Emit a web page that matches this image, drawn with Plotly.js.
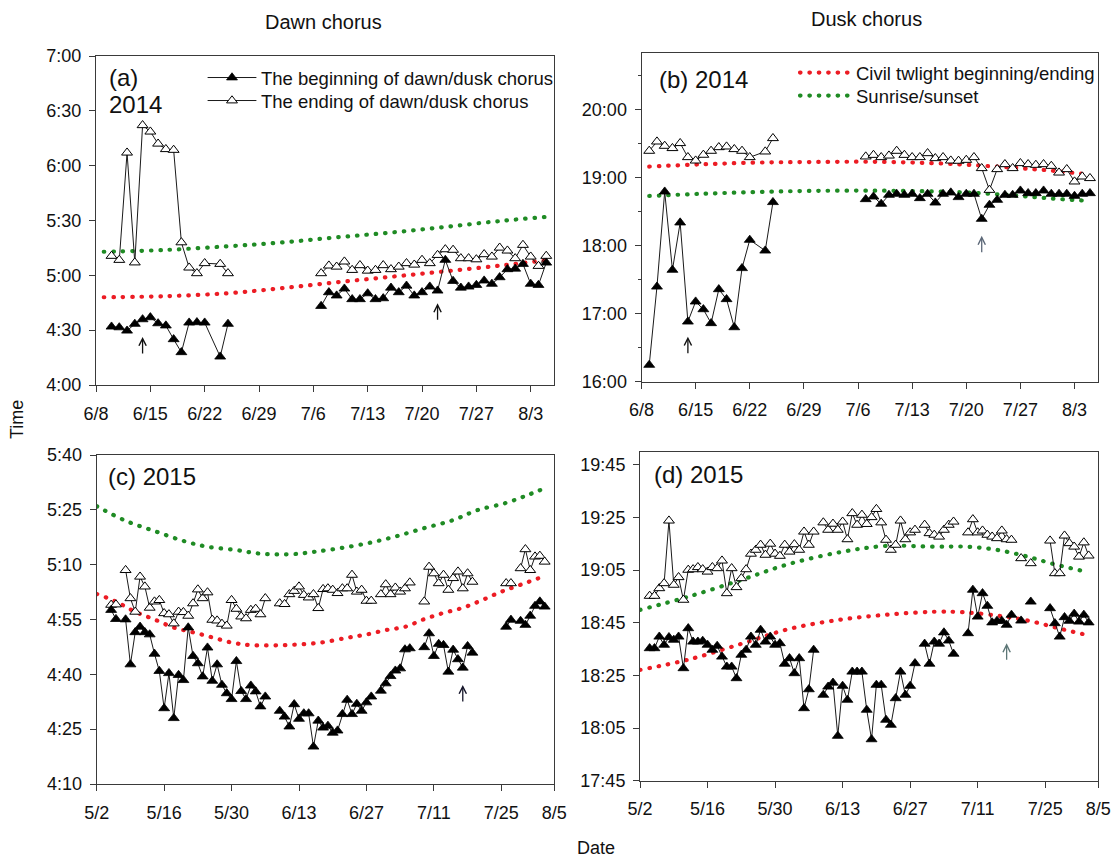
<!DOCTYPE html>
<html>
<head>
<meta charset="utf-8">
<script src="https://cdn.plot.ly/plotly-3.0.1.min.js"></script>
<style>
  html, body { margin: 0; padding: 0; background: #fff; }
  #chart { width: 1114px; height: 861px; }
  .js-line { stroke-linecap: round; }
</style>
</head>
<body>
<div id="chart"></div>
<script>
// ---------------- Dawn chorus 2014 ----------------
const dawn2014Dates = ["6/10","6/11","6/12","6/13","6/14","6/15","6/16","6/17","6/18","6/19","6/20","6/21","6/22","6/24","6/25","6/30",
  "7/7","7/8","7/9","7/10","7/11","7/12","7/13","7/14","7/15","7/16","7/17","7/18","7/19","7/20","7/21","7/22","7/23","7/24","7/25",
  "7/26","7/27","7/28","7/29","7/30","7/31","8/1","8/2","8/3","8/4","8/5"];
const dawn2014Begin = ["4:31.9","4:31.5","4:29.7","4:33.4","4:35.9","4:37.0","4:33.7","4:32.5","4:25.0","4:17.9","4:34.1","4:34.3","4:34.1","4:15.5","4:33.4",null,
  "4:43.2","4:50.7","4:48.9","4:52.7","4:46.9","4:46.9","4:50.1","4:46.9","4:47.4","4:53.2","4:50.7","4:54.3","4:48.9","4:50.7","4:53.8","4:51.6","5:08.4","4:56.9","4:53.2",
  "4:53.8","4:54.7","4:57.1","4:55.3","4:58.9","5:03.3","5:03.6","5:06.2","4:55.3","4:54.7","5:06.9"];
const dawn2014End = ["5:10.6","5:08.4","6:07.1","5:07.0","6:22.1","6:18.6","6:12.0","6:09.0","6:08.6","5:18.0","5:04.2","5:01.1","5:06.6","5:06.2","5:01.1",null,
  "5:01.1","5:05.3","5:04.7","5:07.5","5:02.9","5:05.5","5:02.5","5:02.9","5:05.5","5:03.3","5:04.7","5:06.6","5:05.8","5:08.4","5:06.6","5:11.1","5:14.2","5:13.9","5:09.3",
  "5:09.3","5:08.7","5:11.5","5:10.2","5:15.1","5:13.5","5:09.3","5:16.6","5:10.2","5:05.1","5:10.6"];
const dawn2014RefDates = ["6/9","6/17","6/25","7/2","7/9","7/16","7/23","7/30","8/5"];
const dawn2014Civil   = ["4:48.0","4:48.6","4:50.2","4:53.0","4:56.2","4:59.2","5:02.2","5:05.3","5:08.3"];
const dawn2014Sunrise = ["5:12.9","5:13.9","5:15.9","5:18.0","5:20.8","5:23.4","5:26.5","5:29.7","5:32.0"];

// ---------------- Dusk chorus 2014 ----------------
const dusk2014Dates = ["6/9","6/10","6/11","6/12","6/13","6/14","6/15","6/16","6/17","6/18","6/19","6/20","6/21","6/22","6/24","6/25","6/30",
  "7/7","7/8","7/9","7/10","7/11","7/12","7/13","7/14","7/15","7/16","7/17","7/18","7/19","7/20","7/21","7/22","7/23","7/24","7/25",
  "7/26","7/27","7/28","7/29","7/30","7/31","8/1","8/2","8/3","8/4","8/5"];
const dusk2014Begin = ["16:14.8","17:23.9","18:47.8","17:38.7","18:20.5","16:53.0","17:10.7","17:03.9","16:51.6","17:21.6","17:12.8","16:48.0","17:40.2","18:05.2","17:55.7","18:38.5",null,
  "18:41.1","18:43.4","18:37.0","18:44.9","18:45.8","18:44.9","18:45.8","18:42.0","18:45.8","18:38.1","18:45.8","18:47.0","18:42.9","18:45.8","18:45.8","18:23.7","18:36.1","18:40.5","18:44.9",
  "18:44.9","18:48.7","18:46.4","18:46.4","18:48.7","18:45.8","18:45.8","18:45.8","18:44.0","18:45.8","18:46.4"];
const dusk2014End = ["19:23.8","19:32.0","19:28.2","19:26.2","19:30.6","19:18.2","19:15.2","19:20.3","19:23.8","19:27.0","19:27.6","19:25.3","19:23.8","19:18.2","19:23.2","19:35.0",null,
  "19:18.8","19:20.2","19:18.2","19:19.6","19:23.8","19:20.2","19:18.2","19:18.2","19:21.7","19:17.3","19:18.2","19:15.2","19:15.0","19:15.8","19:18.2","19:08.5","18:49.3","19:07.6","19:12.0",
  "19:08.5","19:12.9","19:12.0","19:11.4","19:12.0","19:10.5","19:04.6","19:07.6","18:56.7","19:01.1","18:59.7"];
const dusk2014RefDates = ["6/9","6/16","6/23","6/30","7/8","7/16","7/22","7/27","7/31","8/4"];
const dusk2014Civil  = ["19:10.0","19:12.0","19:13.5","19:14.0","19:14.2","19:12.9","19:10.8","19:08.5","19:06.4","19:03.6"];
const dusk2014Sunset = ["18:44.0","18:46.0","18:47.5","18:48.5","18:48.7","18:48.0","18:46.4","18:44.0","18:41.8","18:40.0"];

// ---------------- Dawn chorus 2015 ----------------
const dawn2015Dates = ["5/5","5/6","5/7","5/8","5/9","5/10","5/11","5/12","5/13","5/14","5/15","5/16","5/17","5/18","5/19","5/20","5/21","5/22","5/23","5/24",
  "5/25","5/26","5/27","5/28","5/29","5/30","5/31","6/1","6/2","6/3","6/4","6/5","6/6","6/7",
  "6/9","6/10","6/11","6/12","6/13","6/14","6/15","6/16","6/17","6/18","6/19","6/20","6/21","6/22","6/23","6/24","6/25","6/26","6/27","6/28","6/29",
  "6/30","7/1","7/2","7/3","7/4","7/5","7/6","7/7",
  "7/9","7/10","7/11","7/12","7/13","7/14","7/15","7/16","7/17","7/18","7/19","7/20",
  "7/26","7/27","7/28","7/29","7/30","7/31","8/1","8/2","8/3"];
const dawn2015Begin = ["4:57.6","4:55.1",null,"4:55.0","4:42.7","4:51.5","4:53.0","4:51.5","4:50.9","4:45.6","4:40.9","4:30.7","4:40.3","4:28.0","4:39.8","4:38.4","4:52.8","4:45.0","4:43.0","4:39.4",
  "4:47.3","4:38.2","4:42.7","4:37.1","4:34.8","4:33.2","4:43.6","4:35.4","4:33.2","4:36.9","4:35.3","4:31.2","4:33.9",null,
  "4:30.0","4:28.4","4:25.7","4:31.8","4:27.8","4:29.3","4:29.3","4:20.2","4:27.3","4:25.4","4:25.9","4:24.0","4:24.6","4:29.1","4:33.0","4:29.1","4:31.9","4:30.0","4:32.3","4:33.9",null,
  "4:35.5","4:37.5","4:39.5","4:41.0","4:41.6","4:46.8","4:47.1",null,
  "4:47.4","4:51.2","4:45.0","4:48.3","4:48.0","4:40.7","4:46.7","4:44.1","4:41.8","4:47.7","4:45.9",null,
  "4:53.0","4:54.9",null,"4:54.6","4:53.5","4:56.0","4:58.7","4:59.9","4:58.5"];
const dawn2015End = ["4:59.0","4:59.1",null,"5:08.5","5:00.8","4:57.1","5:06.7","5:04.0","4:58.2","4:59.9","5:00.3","4:56.7","4:56.4","4:53.9","4:57.1","4:57.0","4:56.0","4:59.4","5:03.2","5:00.8",
  "5:02.4","4:54.9","4:54.7","4:53.8","4:53.3","5:00.3","4:57.9","4:55.8","4:55.3","4:57.6","4:57.9","4:56.4","5:00.8",null,
  "4:59.4","4:59.2","5:01.9","5:02.8","5:04.0","5:01.7","5:01.0","5:01.9","4:58.1","5:03.3","5:03.5","5:03.1","5:02.2","5:03.5","5:03.5","5:07.2","5:02.6","5:03.1","5:00.1","5:00.1",null,
  "5:01.9","5:04.6","5:01.9","5:03.7","5:02.6","5:03.5","5:05.1",null,
  "4:59.9","5:09.4","5:07.6","5:04.9","5:07.2","5:03.1","5:06.3","5:08.1","5:03.5","5:07.6","5:05.3",null,
  "5:04.9","5:04.9",null,"5:09.0","5:14.2","5:08.5","5:12.2","5:12.4","5:10.8"];
const dawn2015CivilDates = ["5/2","5/6","5/10","5/14","5/18","5/22","5/26","5/30","6/3","6/10","6/17","6/23","6/27","7/1","7/5","7/9","7/13","7/17","7/21","7/25","7/29","8/3"];
const dawn2015Civil = ["5:02.0","4:59.9","4:57.1","4:55.0","4:52.8","4:51.5","4:50.1","4:48.7","4:48.0","4:48.0","4:48.6","4:50.0","4:50.9","4:52.1","4:53.0","4:55.1","4:56.8","4:58.2","5:00.3","5:02.6","5:04.5","5:06.9"];
const dawn2015SunriseDates = ["5/2","5/8","5/14","5/20","5/25","5/31","6/5","6/12","6/16","6/21","6/27","7/3","7/9","7/15","7/20","7/26","7/30","8/3"];
const dawn2015Sunrise = ["5:26.0","5:22.0","5:19.2","5:16.5","5:14.9","5:14.0","5:13.0","5:12.9","5:13.5","5:14.4","5:15.8","5:17.7","5:20.0","5:22.2","5:24.9","5:26.9","5:28.8","5:30.9"];

// ---------------- Dusk chorus 2015 ----------------
const dusk2015Dates = ["5/4","5/5","5/6","5/7","5/8","5/9","5/10","5/11","5/12","5/13","5/14","5/15","5/16","5/17","5/18","5/19","5/20","5/21","5/22","5/23","5/24",
  "5/25","5/26","5/27","5/28","5/29","5/30","5/31","6/1","6/2","6/3","6/4","6/5","6/6","6/7","6/8",
  "6/9","6/10","6/11","6/12","6/13","6/14","6/15","6/16","6/17","6/18","6/19","6/20","6/21","6/22","6/23","6/24","6/25","6/26","6/27","6/28","6/29",
  "6/30","7/1","7/2","7/3","7/4","7/5","7/6","7/7",
  "7/9","7/10","7/11","7/12","7/13","7/14","7/15","7/16","7/17","7/18","7/19","7/20","7/21","7/22","7/23",
  "7/26","7/27","7/28","7/29","7/30","7/31","8/1","8/2","8/3"];
const dusk2015Begin = ["18:35.3","18:35.3","18:39.7","18:36.6","18:39.5","18:38.5","18:39.7","18:27.7","18:42.9","18:37.8","18:37.8","18:38.1","18:36.6","18:34.7","18:36.2","18:32.1","18:28.3","18:28.3","18:23.9","18:32.8","18:34.7",
  "18:39.7","18:36.6","18:42.3","18:37.8","18:39.7","18:36.6","18:37.2","18:29.4","18:31.5","18:25.8","18:31.5","18:12.5","18:19.7","18:34.7",null,
  "18:17.6","18:20.7","18:22.2","18:02.0","18:21.0","18:15.7","18:26.4","18:26.4","18:26.4","18:11.9","18:00.7","18:21.4","18:21.4","18:08.1","18:06.2","18:16.3","18:26.4","18:17.6","18:21.0","18:29.6",null,
  "18:37.0","18:29.4","18:37.8","18:37.0","18:41.3","18:38.2","18:33.2",null,
  "18:41.0","18:57.5","18:47.3","18:56.2","18:51.4","18:45.1","18:45.7","18:45.7","18:44.2","18:48.0",null,"18:45.8",null,"18:53.0",null,
  "18:50.5","18:44.8","18:39.7","18:47.1","18:45.7","18:48.4","18:45.4","18:48.0","18:45.1"];
const dusk2015End = ["18:55.2","18:55.2","18:58.1","19:00.0","19:23.8","18:59.4","19:02.3","18:53.7","19:05.1","19:05.3","19:06.1","19:05.3","19:04.4","19:06.1","19:05.7","19:08.6","18:56.2","19:05.7","18:58.5","19:01.9","19:05.3",
  "19:11.2","19:12.7","19:14.6","19:10.8","19:15.0","19:11.2","19:10.4","19:14.6","19:12.0","19:14.8","19:12.7","19:19.6","19:14.6","19:19.6",null,
  "19:23.1","19:20.3","19:22.6","19:20.3","19:23.4","19:16.7","19:26.6","19:22.2","19:26.0","19:22.5","19:25.1","19:28.2","19:23.1","19:16.5","19:12.7","19:14.6","19:23.8","19:16.7","19:19.3","19:20.3",null,
  "19:22.2","19:19.0","19:18.4","19:17.7","19:20.3","19:22.2","19:23.4",null,
  "19:19.3","19:24.3","19:19.3","19:20.0","19:18.4","19:17.7","19:17.1","19:20.0","19:16.7","19:16.5",null,"19:09.5",null,"19:07.6",null,
  "19:16.2","19:03.8","19:03.8","19:18.1","19:15.2","19:13.9","19:10.1","19:15.5","19:10.5"];
const dusk2015CivilDates = ["5/2","5/12","5/23","6/2","6/13","6/23","7/2","7/8","7/16","7/22","7/28","8/3"];
const dusk2015Civil = ["18:27.1","18:31.0","18:37.0","18:42.7","18:46.3","18:48.2","18:49.2","18:49.0","18:47.5","18:45.6","18:42.8","18:40.2"];
const dusk2015SunsetDates = ["5/2","5/12","5/23","6/2","6/13","6/22","7/2","7/9","7/15","7/21","7/27","8/3"];
const dusk2015Sunset = ["18:49.9","18:54.9","19:01.3","19:07.4","19:12.0","19:14.2","19:13.9","19:13.9","19:12.7","19:10.3","19:07.2","19:04.2"];

// ---------------- axis ticks ----------------
const ticks2014 = ["6/8","6/15","6/22","6/29","7/6","7/13","7/20","7/27","8/3"];
const ticks2015 = ["5/2","5/16","5/30","6/13","6/27","7/11","7/25","8/5"];
const yTicksA = ["4:00","4:30","5:00","5:30","6:00","6:30","7:00"];
const yTicksB = ["16:00","17:00","18:00","19:00","20:00"];
const yMinorB = ["16:30","17:30","18:30","19:30","20:30"];
const yTicksC = ["4:10","4:25","4:40","4:55","5:10","5:25","5:40"];
const yTicksD = ["17:45","18:05","18:25","18:45","19:05","19:25","19:45"];

// marker arrows: [panel, date, time]
const arrowMarks = [
  ["a", "6/14", "4:26.3"], ["a", "7/22", "4:44.7"],
  ["b", "6/14", "16:39.8"], ["b", "7/22", "18:08.8"],
  ["c", "7/17", "4:37.1"], ["d", "7/17", "18:37.2"]
];

// ---------------- helpers ----------------
const W = 1114, H = 861;
const FONT = "'Liberation Sans', Arial, sans-serif";
const RED = "#ec1c24", GREEN = "#1f8b24";

function hrs(s) {
  if (s === null) return null;
  const p = s.split(":");
  return Number(p[0]) + parseFloat(p[1]) / 60;
}
function day(year, md) {
  const p = md.split("/");
  return year + "-" + p[0].padStart(2, "0") + "-" + p[1].padStart(2, "0");
}
const px = v => v / W;
const py = v => 1 - v / H;

function chorusPair(year, dates, begin, end, xa, ya, legA, legB) {
  const x = dates.map(d => day(year, d));
  return [
    {
      x: x, y: end.map(hrs), xaxis: xa, yaxis: ya, type: "scatter", mode: "lines+markers",
      name: "The ending of dawn/dusk chorus", connectgaps: false,
      line: {color: "#1a1a1a", width: 1},
      marker: {symbol: "triangle-up", size: 9.5, color: "#ffffff", line: {color: "#000", width: 1}},
      showlegend: !!legB, legend: legB || "legend"
    },
    {
      x: x, y: begin.map(hrs), xaxis: xa, yaxis: ya, type: "scatter", mode: "lines+markers",
      name: "The beginning of dawn/dusk chorus", connectgaps: false,
      line: {color: "#1a1a1a", width: 1},
      marker: {symbol: "triangle-up", size: 9.5, color: "#000", line: {color: "#000", width: 0.8}},
      showlegend: !!legA, legend: legA || "legend"
    }
  ];
}
function dotted(year, dates, vals, color, name, xa, ya, leg) {
  return {
    x: dates.map(d => day(year, d)), y: vals.map(hrs), xaxis: xa, yaxis: ya,
    type: "scatter", mode: "lines", name: name,
    line: {color: color, width: 4.2, dash: "0.5px,8.9px", shape: "spline"},
    showlegend: !!leg, legend: leg || "legend", hoverinfo: "skip"
  };
}

const traces = [].concat(
  dotted(2014, dawn2014RefDates, dawn2014Civil, RED, "Civil twlight beginning/ending", "x", "y"),
  dotted(2014, dawn2014RefDates, dawn2014Sunrise, GREEN, "Sunrise/sunset", "x", "y"),
  chorusPair(2014, dawn2014Dates, dawn2014Begin, dawn2014End, "x", "y", "legend", "legend2"),
  dotted(2014, dusk2014RefDates, dusk2014Civil, RED, "Civil twlight beginning/ending", "x2", "y2", "legend3"),
  dotted(2014, dusk2014RefDates, dusk2014Sunset, GREEN, "Sunrise/sunset", "x2", "y2", "legend4"),
  chorusPair(2014, dusk2014Dates, dusk2014Begin, dusk2014End, "x2", "y2"),
  dotted(2015, dawn2015CivilDates, dawn2015Civil, RED, "Civil twlight beginning/ending", "x3", "y3"),
  dotted(2015, dawn2015SunriseDates, dawn2015Sunrise, GREEN, "Sunrise/sunset", "x3", "y3"),
  chorusPair(2015, dawn2015Dates, dawn2015Begin, dawn2015End, "x3", "y3"),
  dotted(2015, dusk2015CivilDates, dusk2015Civil, RED, "Civil twlight beginning/ending", "x4", "y4"),
  dotted(2015, dusk2015SunsetDates, dusk2015Sunset, GREEN, "Sunrise/sunset", "x4", "y4"),
  chorusPair(2015, dusk2015Dates, dusk2015Begin, dusk2015End, "x4", "y4")
);

const axisBase = {
  showline: true, mirror: true, linecolor: "#3a3a3a", linewidth: 1,
  ticks: "outside", ticklen: 6, tickwidth: 1, tickcolor: "#3a3a3a",
  showgrid: false, zeroline: false, fixedrange: true,
  tickfont: {family: FONT, size: 18, color: "#111"}
};
function xAxis(domain, anchor, year, ticks, range) {
  return Object.assign({}, axisBase, {
    domain: domain, anchor: anchor, type: "date", range: range,
    tickmode: "array", tickvals: ticks.map(t => day(year, t)), ticktext: ticks,
    ticklabelstandoff: 6
  });
}
function yAxis(domain, anchor, ticks, range, minor) {
  const a = Object.assign({}, axisBase, {
    domain: domain, anchor: anchor, range: range,
    tickmode: "array", tickvals: ticks.map(hrs), ticktext: ticks,
    ticklabelstandoff: 4
  });
  if (minor) a.minor = {tickmode: "array", tickvals: minor.map(hrs), ticks: "outside", ticklen: 3, tickcolor: "#3a3a3a"};
  return a;
}

const panelLayout = {
  a: {xa: "x", ya: "y", year: 2014},
  b: {xa: "x2", ya: "y2", year: 2014},
  c: {xa: "x3", ya: "y3", year: 2015},
  d: {xa: "x4", ya: "y4", year: 2015}
};
const arrowColor = {a: "#111", b: "#111", c: "#15152a", d: "#5c7676"};
const arrowAnn = arrowMarks.map((m, i) => {
  const p = panelLayout[m[0]];
  let col = arrowColor[m[0]];
  if (m[0] === "b" && i === 3) col = "#5c6878";
  return {
    xref: p.xa, yref: p.ya, x: day(p.year, m[1]), y: hrs(m[2]), text: "",
    showarrow: true, arrowhead: 5, arrowsize: 1.1, arrowwidth: 1.3, arrowcolor: col,
    ax: 0, ay: 18, standoff: 0
  };
});

function label(text, x, y, size, opts) {
  return Object.assign({
    xref: "paper", yref: "paper", x: px(x), y: py(y), text: text, showarrow: false,
    font: {family: FONT, size: size, color: "#111"}, xanchor: "left", yanchor: "middle"
  }, opts || {});
}

const legendBase = {
  bgcolor: "rgba(0,0,0,0)", borderwidth: 0, xanchor: "left", yanchor: "middle",
  font: {family: FONT, size: 18.5, color: "#111"}, tracegroupgap: 0
};

const layout = {
  width: W, height: H, autosize: false,
  margin: {l: 0, r: 0, t: 0, b: 0},
  paper_bgcolor: "#fff", plot_bgcolor: "#fff",
  font: {family: FONT, size: 18, color: "#111"},
  xaxis:  xAxis([px(96), px(554)], "y", 2014, ticks2014, ["2014-06-08", "2014-08-06"]),
  yaxis:  yAxis([py(385), py(56)], "x", yTicksA, [4, 7]),
  xaxis2: xAxis([px(641.5), px(1097.7)], "y2", 2014, ticks2014, ["2014-06-08", "2014-08-06"]),
  yaxis2: yAxis([py(381.7), py(53.3)], "x2", yTicksB, [16, hrs("20:50")], yMinorB),
  xaxis3: xAxis([px(96.7), px(554.3)], "y3", 2015, ticks2015, ["2015-05-02", "2015-08-05"]),
  yaxis3: yAxis([py(784), py(455)], "x3", yTicksC, [hrs("4:10"), hrs("5:40")]),
  xaxis4: xAxis([px(640), px(1098.3)], "y4", 2015, ticks2015, ["2015-05-02", "2015-08-05"]),
  yaxis4: yAxis([py(780.7), py(451.7)], "x4", yTicksD, [hrs("17:45"), hrs("19:50")]),
  legend:  Object.assign({}, legendBase, {x: px(203), y: py(78), itemwidth: 48}),
  legend2: Object.assign({}, legendBase, {x: px(203), y: py(101), itemwidth: 48}),
  legend3: Object.assign({}, legendBase, {x: px(795), y: py(73), itemwidth: 51}),
  legend4: Object.assign({}, legendBase, {x: px(795), y: py(96), itemwidth: 51}),
  annotations: [
    label("Dawn chorus", 323, 22, 20, {xanchor: "center"}),
    label("Dusk chorus", 866, 19, 20, {xanchor: "center"}),
    label("Time", 17, 420, 18, {xanchor: "center", textangle: -90}),
    label("Date", 596, 848, 18, {xanchor: "center"}),
    label("(a)", 107, 77, 24),
    label("2014", 107, 104.5, 24),
    label("(b) 2014", 657, 79, 24),
    label("(c) 2015", 105.5, 476, 24),
    label("(d) 2015", 651.5, 474, 24)
  ].concat(arrowAnn)
};

Plotly.newPlot("chart", traces, layout, {displayModeBar: false, staticPlot: true});
</script>
</body>
</html>
